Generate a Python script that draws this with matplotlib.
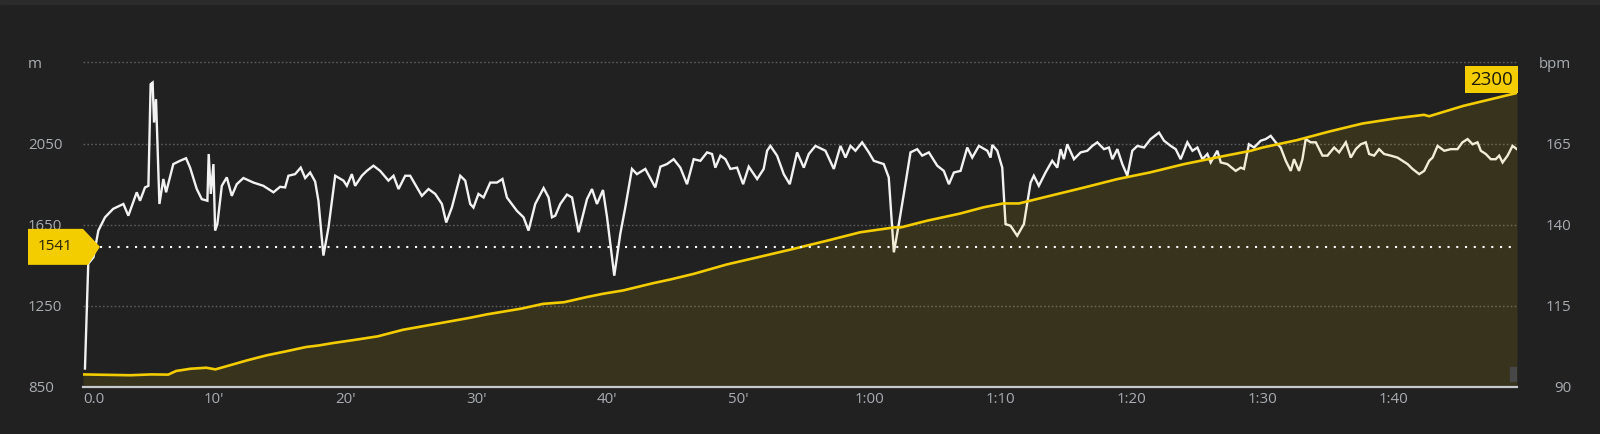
import matplotlib
matplotlib.use("Agg")
import matplotlib.pyplot as plt
import matplotlib.transforms as mtransforms
from matplotlib.patches import Polygon, Rectangle

# heart rate: minutes, bpm
hr_t = [0.15, 0.4, 0.8, 1.17, 1.68, 2.3, 3.08, 3.46, 4.1, 4.35, 4.73, 4.99, 5.16, 5.31, 5.42,
        5.57, 5.83, 6.13, 6.34, 6.89, 7.4, 7.86, 8.17, 8.68, 9.06, 9.49, 9.59, 9.75, 9.95,
        10.08, 10.25, 10.59, 10.97, 11.35, 11.73, 12.24, 13.0, 13.76, 14.53, 15.04, 15.42,
        15.67, 16.18, 16.61, 16.95, 17.33, 17.71, 17.96, 18.34, 18.73, 19.24, 19.87, 20.13,
        20.51, 20.76, 21.27, 21.65, 22.16, 22.67, 23.3, 23.69, 24.07, 24.58, 24.96, 25.85,
        26.36, 26.87, 27.38, 27.71, 28.14, 28.78, 29.16, 29.54, 29.79, 30.17, 30.56, 31.07,
        31.58, 32.0, 32.34, 33.1, 33.61, 33.99, 34.5, 35.14, 35.52, 35.78, 36.03, 36.41,
        36.92, 37.31, 37.81, 38.45, 38.83, 39.21, 39.67, 39.98, 40.53, 40.99, 41.37, 41.88,
        42.26, 42.9, 43.66, 44.05, 44.55, 45.06, 45.57, 46.08, 46.59, 47.1, 47.61, 47.99,
        48.24, 48.63, 49.01, 49.39, 49.9, 50.36, 50.79, 51.43, 51.93, 52.19, 52.44, 52.95,
        53.46, 53.92, 54.48, 54.99, 55.37, 55.88, 56.64, 57.28, 57.79, 58.17, 58.55, 58.93,
        59.44, 59.95, 60.33, 61.09, 61.47, 61.86, 62.24, 62.62, 63.13, 63.64, 64.02, 64.53,
        65.17, 65.67, 66.06, 66.44, 66.95, 67.46, 67.84, 68.35, 68.99, 69.24, 69.37, 69.75,
        70.13, 70.38, 70.76, 71.27, 71.78, 72.29, 72.54, 72.92, 73.43, 73.94, 74.33, 74.58,
        74.83, 75.09, 75.6, 76.11, 76.62, 77.0, 77.38, 77.89, 78.27, 78.53, 78.91, 79.29,
        79.67, 80.05, 80.44, 80.95, 81.45, 82.09, 82.47, 82.98, 83.36, 83.74, 84.25, 84.64,
        85.02, 85.4, 85.78, 86.03, 86.54, 86.8, 87.3, 87.94, 88.32, 88.57, 88.95, 89.34,
        89.85, 90.23, 90.61, 90.99, 91.37, 91.76, 92.14, 92.39, 92.77, 93.03, 93.28, 93.66,
        94.05, 94.56, 94.94, 95.45, 95.83, 96.34, 96.72, 97.1, 97.48, 97.86, 98.12, 98.5,
        98.88, 99.26, 99.77, 100.28, 100.66, 101.05, 101.43, 101.94, 102.32, 102.7, 102.96,
        103.34, 103.85, 104.35, 104.86, 105.24, 105.63, 106.01, 106.39, 106.64, 107.02,
        107.4, 107.78, 108.04, 108.3, 108.68, 109.06, 109.39]
hr_bpm = [95.7, 128, 130, 138.2, 142.3, 144.9, 146.4, 142.8, 150, 147.4, 151.5, 152, 183.3, 183.8, 171.5,
          178.7, 146.4, 154.1, 150, 158.7, 159.7, 160.5, 157.6, 151, 147.9, 147.4, 161.8, 149.5, 158.7,
          138.2, 140.2, 152, 154.6, 148.9, 152.5, 154.4, 153, 152, 150, 151.7, 151.5,
          155.1, 155.6, 157.6, 154.4, 156.1, 153.3, 147.4, 130.5, 139.2, 155.1, 153.6, 152,
          155.6, 152, 155.1, 156.6, 158.2, 156.6, 153.6, 155.1, 151, 155.1, 155.1, 148.9,
          151, 149.5, 146.4, 140.7, 145.3, 155.1, 153.6, 146.4, 145.3, 149.5, 148.4, 153,
          153, 154.1, 148.4, 144.3, 142.3, 138.2, 146.4, 151.3, 148.4, 142.3, 142.8, 146.4,
          149.3, 148.4, 137.7, 147.9, 151, 146.4, 150.7, 142.3, 124.3, 137.2, 145.3, 157.2,
          155.6, 157.2, 151.5, 157.9, 158.7, 160.2, 157.6, 152.5, 160.2, 159.7, 162.3, 161.8,
          157.6, 161.3, 160.2, 157.2, 157.6, 152.5, 157.9, 154.1, 157.2, 162.8, 164.3, 161.3,
          155.6, 152.5, 162.3, 157.6, 161.8, 164.3, 162.8, 157.2, 164.3, 160.7, 164.3, 162.8,
          165.4, 162.3, 159.7, 158.7, 154.6, 131.5, 140.2, 149.5, 162.3, 163.3, 161.3, 162.3,
          158.2, 156.6, 152.5, 156.1, 156.6, 163.8, 160.7, 164.3, 162.8, 160.7, 164.6, 162.8,
          157.6, 140.2, 139.7, 136.6, 140.2, 153, 155.1, 152, 156.1, 159.7, 157.6, 163.3,
          160.2, 164.8, 160.2, 162.3, 162.8, 164.3, 165.4, 163.3, 163.8, 160.2, 163.3, 158.7,
          155.1, 162.8, 164.3, 163.8, 166.4, 168.4, 165.9, 164.3, 163.3, 160.2, 165.4, 162.8,
          163.8, 160.2, 161.8, 159.2, 162.8, 159.2, 158.7, 156.6, 157.6, 157.2, 164.8, 163.8,
          165.9, 166.4, 167.4, 165.4, 163.8, 159.7, 156.6, 160.2, 156.6, 160.2, 166.4, 165.4,
          165.4, 161.3, 161.3, 163.8, 162.3, 165.4, 160.7, 163.3, 164.8, 165.4, 161.8, 161.3,
          163.3, 161.8, 161.3, 160.7, 159.7, 158.7, 157.2, 155.6, 156.6, 159.7, 160.7,
          164.3, 162.8, 163.3, 163.3, 165.4, 166.4, 164.8, 165.4, 162.8, 161.8,
          160.2, 160.2, 161.3, 159.2, 161.3, 164.3, 163.3]

# elevation: minutes, metres
elev_t = [0, 3.6, 5.2, 6.5, 7.1, 8.2, 9.4, 10.1, 11.2, 12.5, 14, 15.5, 17, 18, 19, 20.8, 22.5,
          24.4, 27, 29.5, 30.8, 33.4, 35.1, 36.7, 38.4, 39.7, 41.2, 43.5, 44.8, 46.6, 49.1,
          51.7, 54.2, 56.8, 59.3, 61.9, 62.4, 64.4, 66.9, 68.7, 70.2, 71.4, 73.8, 76.4, 78.9,
          81.4, 84, 86.5, 89.1, 90, 92.6, 95.1, 97.6, 100.2, 102.3, 102.7, 105.3, 109.4]
elev_m = [912, 908, 912, 911, 929, 940, 945, 937, 957, 981, 1006, 1026, 1047, 1055, 1066, 1083, 1100,
          1132, 1162, 1191, 1208, 1236, 1260, 1268, 1293, 1310, 1326, 1362, 1380, 1408, 1454,
          1493, 1531, 1572, 1613, 1637, 1637, 1670, 1705, 1736, 1755, 1755, 1793, 1834, 1875,
          1908, 1949, 1982, 2015, 2031, 2067, 2110, 2149, 2175, 2192, 2185, 2236, 2300]

x_ticks = [0, 10, 20, 30, 40, 50, 60, 70, 80, 90, 100]
x_labels = ["0.0", "10'", "20'", "30'", "40'", "50'", "1:00", "1:10", "1:20", "1:30", "1:40"]
elev_ticks = [850, 1250, 1650, 2050, 2450]
elev_labels = ["850", "1250", "1650", "2050", "m"]
hr_ticks = [90, 115, 140, 165, 190]
hr_labels = ["90", "115", "140", "165", "bpm"]
marker_elev = 1541

BG = "#212121"
YELLOW = "#f3cd00"
LABEL = "#a9adb2"
GRID = "#5c5c5c"

plt.rcParams['font.family'] = ['Open Sans', 'DejaVu Sans']

fig = plt.figure(figsize=(16, 4.34), dpi=100, facecolor=BG)
fig.add_artist(Rectangle((0, 1 - 4 / 434), 1, 4 / 434, transform=fig.transFigure,
                         color="#2b2b2b", zorder=0))

ax = fig.add_axes([83 / 1600, 47 / 434, 1434 / 1600, 324.5 / 434])
ax.set_facecolor(BG)
ax2 = ax.twinx()

# heart rate on the host axes (right ticks), under the elevation fill
ax.set_xlim(0, max(elev_t))
ax.set_ylim(hr_ticks[0], hr_ticks[-1])
for y in hr_ticks[1:]:
    ax.axhline(y, color=GRID, lw=1.0, ls=(0, (1.2, 1.6)), zorder=1, clip_on=False)
ax.plot(hr_t, hr_bpm, color="#f2f2f2", lw=1.7, zorder=3, solid_joinstyle="miter")

ax.yaxis.tick_right()
ax.set_yticks(hr_ticks)
ax.set_yticklabels(hr_labels, ha="right")
ax.tick_params(axis="y", length=0, pad=38.9, labelsize=10.8, labelcolor=LABEL)
ax.set_xticks(x_ticks)
ax.set_xticklabels(x_labels)
ax.get_xticklabels()[0].set_ha("left")
ax.tick_params(axis="x", length=0, pad=3.6, labelsize=10.8, labelcolor=LABEL)
for s in ax.spines.values():
    s.set_visible(False)

# elevation on the twin (left ticks)
ax2.set_ylim(elev_ticks[0], elev_ticks[-1])
ax2.fill_between(elev_t, elev_m, elev_ticks[0], color=YELLOW, alpha=0.11, lw=0, zorder=2)
ax2.plot(elev_t, elev_m, color=YELLOW, lw=1.9, zorder=4)
ax2.axhline(marker_elev, xmin=17 / 1434, color="white", lw=1.5, ls=(0, (1, 3.2)), zorder=5)
ax2.axhline(elev_ticks[0], color="#c6cacf", lw=1.6, zorder=6, clip_on=False)
ax2.add_patch(Rectangle((0.995, 0.018), 0.005, 0.044, transform=ax2.transAxes,
                        color="#474747", zorder=6))
ax2.yaxis.tick_left()
ax2.set_yticks(elev_ticks)
ax2.set_yticklabels(elev_labels, ha="left")
ax2.tick_params(axis="y", length=0, pad=39.6, labelsize=10.8, labelcolor=LABEL)
for s in ax2.spines.values():
    s.set_visible(False)

# end label
ax2.annotate(str(elev_m[-1]), xy=(elev_t[-1], elev_m[-1]), xytext=(-3, 3),
             textcoords="offset points", ha="right", va="bottom", fontsize=13.5,
             color="#1e1b00", zorder=7,
             bbox=dict(boxstyle="square,pad=0.25", fc=YELLOW, ec="none"))

# left marker flag
fig.canvas.draw()
x0, y0 = ax2.transData.transform((0, marker_elev))
flag = Polygon([(-55, 18), (0, 18), (17, 0), (5, -18), (-55, -18)], closed=True,
               transform=mtransforms.Affine2D().translate(x0, y0),
               fc=YELLOW, ec="none", zorder=8)
fig.add_artist(flag)
fig.text(x0 - 28, y0, str(marker_elev), transform=None, ha="center", va="center",
         fontsize=11, color="#2a2500", zorder=9)

fig.savefig("out.png", dpi=100, facecolor=BG)
